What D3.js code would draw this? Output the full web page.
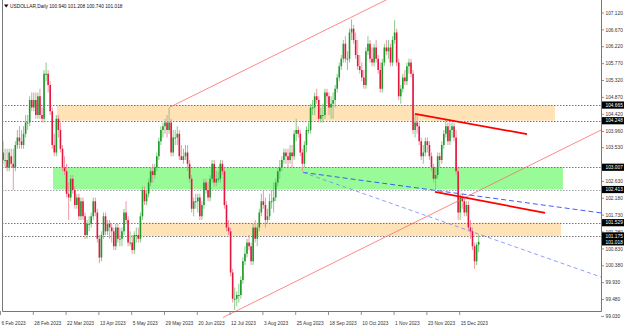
<!DOCTYPE html>
<html>
<head>
<meta charset="utf-8">
<script src="https://cdn.jsdelivr.net/npm/d3@7"></script>
<style>
  body { margin: 0; background: #fff; }
  svg { display: block; }
</style>
</head>
<body>
<div id="canvas"></div>
<script>
// daily bars, 6 Feb 2023 onwards (bar index = trading day)
const dateLabels = ["6 Feb 2023", "28 Feb 2023", "22 Mar 2023", "13 Apr 2023", "5 May 2023", "29 May 2023",
  "20 Jun 2023", "12 Jul 2023", "3 Aug 2023", "25 Aug 2023", "18 Sep 2023", "10 Oct 2023", "1 Nov 2023",
  "23 Nov 2023", "15 Dec 2023"];
const dateIndex = [0, 16, 32, 48, 64, 80, 96, 112, 128, 144, 160, 176, 192, 208, 224];

const priceTicks = [107.12, 106.67, 106.22, 105.77, 105.32, 104.87, 104.42, 103.96, 103.53,
  102.63, 102.18, 101.73, 101.28, 100.83, 100.38, 99.93, 99.48, 99.03];

const open = [
  103.0,103.4,103.2,103.2,103.0,103.3,103.1,103.0,103.6,103.8,
  103.7,103.6,103.9,104.2,104.2,104.8,104.6,104.8,104.4,104.9,
  104.4,104.3,105.5,105.5,105.2,104.5,103.6,103.4,104.3,104.0,
  103.5,103.0,102.9,102.3,102.2,102.7,102.4,102.0,102.2,101.7,
  102.1,101.7,101.2,101.5,101.5,101.7,102.1,101.8,101.1,100.6,
  101.2,101.7,101.3,101.5,101.4,101.3,100.9,101.4,101.1,101.1,
  101.3,101.8,101.6,101.0,101.0,100.8,101.2,101.2,101.1,101.7,
  102.4,102.1,102.3,102.6,102.9,102.8,103.0,103.3,103.7,104.0,
  104.1,104.2,104.0,104.2,103.4,103.8,103.8,103.9,103.3,103.2,
  103.3,103.4,103.1,102.7,101.9,102.1,102.1,102.2,101.7,102.0,
  102.6,102.4,102.2,102.7,103.1,102.6,102.7,102.7,103.1,102.9,
  102.0,101.4,101.3,100.2,99.5,99.5,99.6,99.6,100.0,100.5,
  100.7,101.0,100.9,100.5,101.4,101.1,101.4,101.8,102.1,102.0,
  101.6,101.7,102.1,102.1,102.2,102.6,102.9,103.0,103.2,103.4,
  103.3,103.2,103.4,103.3,103.9,104.0,103.9,103.4,103.1,103.6,
  104.0,104.0,104.6,104.6,104.9,104.8,104.3,104.4,104.4,105.0,
  104.9,104.6,104.7,104.8,105.1,105.4,105.7,105.9,106.3,105.9,
  105.9,106.6,106.7,106.4,106.0,105.7,105.6,105.4,105.2,106.1,
  106.3,105.9,105.8,106.2,105.9,105.6,105.1,105.8,106.2,106.1,
  106.2,105.8,106.4,106.6,105.8,104.9,105.1,105.4,105.3,105.7,
  105.8,105.5,104.0,104.2,104.1,103.7,103.3,103.4,103.7,103.6,
  103.3,103.0,102.7,102.8,103.3,103.2,103.6,103.9,104.1,103.7,
  104.0,104.1,103.8,102.9,101.8,102.2,102.1,101.8,102.0,101.4,
  101.3,100.9,100.5,100.94
];
const high = [
  103.5,103.7,103.5,103.5,103.5,103.5,103.5,103.7,104.0,104.1,
  104.0,104.1,104.4,104.4,104.9,105.0,105.0,105.0,105.0,105.1,
  104.6,105.6,105.8,105.6,105.3,104.6,103.9,104.4,104.4,104.2,
  103.6,103.3,103.1,102.6,102.8,102.8,102.5,102.3,102.3,102.2,
  102.2,101.8,101.6,101.7,101.8,102.2,102.2,101.9,101.2,101.3,
  101.8,101.8,101.6,101.6,101.5,101.4,101.5,101.5,101.4,101.4,
  101.9,102.1,101.7,101.3,101.2,101.3,101.4,101.4,101.8,102.5,
  102.5,102.4,102.7,103.0,103.1,103.1,103.4,103.8,104.1,104.2,
  104.3,104.4,104.6,104.3,104.0,104.0,104.1,104.0,103.6,103.5,
  103.6,103.6,103.2,102.8,102.2,102.3,102.3,102.3,102.1,102.7,
  102.7,102.6,102.8,103.2,103.2,102.9,102.9,103.2,103.2,103.0,
  102.1,101.6,101.4,100.3,99.8,99.7,99.9,100.1,100.6,100.9,
  101.1,101.2,101.0,101.5,101.6,101.5,101.9,102.3,102.4,102.2,
  101.9,102.3,102.4,102.6,102.7,103.0,103.2,103.3,103.5,103.5,
  103.5,103.6,103.6,104.0,104.3,104.1,104.0,103.5,103.7,104.1,
  104.2,104.7,104.8,105.0,105.1,104.9,104.6,104.7,105.1,105.1,
  105.0,104.9,105.0,105.2,105.5,105.8,106.0,106.4,106.5,106.1,
  106.7,106.95,106.8,106.6,106.4,106.0,105.8,105.6,106.2,106.5,
  106.4,106.2,106.3,106.4,106.0,105.8,105.9,106.3,106.4,106.4,
  106.3,106.5,106.93,106.7,105.9,105.2,105.5,105.6,105.8,105.9,
  105.9,105.6,104.43,104.4,104.2,103.8,103.6,103.8,103.8,103.7,
  103.4,103.1,103.0,103.4,103.4,103.7,104.0,104.3,104.2,104.2,
  104.2,104.2,104.0,103.0,102.3,102.3,102.2,102.1,102.1,101.6,
  101.4,101.0,101.0,101.208
];
const low = [
  102.9,103.1,103.0,102.9,102.9,103.0,102.4,102.9,103.5,103.5,
  103.5,103.5,103.8,104.0,104.1,104.5,104.5,104.3,104.3,104.3,
  104.2,104.2,105.3,105.0,104.4,103.5,103.3,103.3,103.8,103.4,
  102.9,102.8,102.2,101.6,102.1,102.3,101.9,101.9,101.6,101.6,
  101.6,101.1,101.1,101.3,101.4,101.6,101.7,101.0,100.45,100.5,
  101.1,101.2,101.2,101.1,101.0,100.8,100.8,101.0,100.9,100.9,
  101.2,101.5,100.9,100.9,100.7,100.7,101.0,101.0,101.0,101.6,
  102.0,102.0,102.2,102.5,102.6,102.7,102.9,103.2,103.6,103.8,
  103.9,103.8,103.9,103.3,103.3,103.6,103.6,103.2,103.2,103.1,
  103.2,102.9,102.6,101.8,101.7,101.9,101.8,101.6,101.6,101.9,
  102.3,102.1,102.1,102.6,102.5,102.5,102.6,102.6,102.8,101.9,
  101.3,101.2,100.1,99.4,99.2,99.3,99.4,99.5,99.9,100.4,
  100.6,100.8,100.4,100.4,101.0,100.9,101.3,101.7,101.9,101.4,
  101.5,101.6,101.9,101.8,102.1,102.5,102.7,102.9,103.1,103.1,
  103.0,103.1,103.0,103.2,103.7,103.8,103.3,102.9,103.0,103.4,
  103.9,103.9,104.4,104.4,104.7,104.2,104.2,104.2,104.3,104.7,
  104.4,104.3,104.3,104.6,105.0,105.3,105.6,105.8,105.8,105.6,
  105.8,106.4,106.3,105.9,105.6,105.5,105.3,105.1,105.1,106.0,
  105.8,105.7,105.7,105.8,105.5,105.0,105.0,105.7,106.0,105.9,
  105.7,105.7,106.3,105.7,104.8,104.7,105.0,105.2,105.2,105.5,
  105.4,103.9,103.8,103.9,103.6,103.2,103.1,103.3,103.4,103.2,
  102.9,102.6,102.4,102.7,103.0,103.1,103.5,103.8,103.6,103.6,
  103.8,103.7,102.8,101.6,101.6,101.9,101.7,101.7,101.3,101.1,
  100.8,100.3,100.4,100.74
];
const close = [
  103.4,103.2,103.2,103.0,103.4,103.1,103.0,103.6,103.8,103.7,
  103.6,103.9,104.2,104.2,104.8,104.6,104.8,104.4,104.9,104.4,
  104.3,105.5,105.5,105.2,104.5,103.6,103.4,104.3,104.0,103.5,
  103.0,102.9,102.3,102.2,102.7,102.4,102.0,102.2,101.7,102.1,
  101.7,101.2,101.5,101.5,101.7,102.1,101.8,101.1,100.6,101.2,
  101.7,101.3,101.5,101.4,101.3,100.9,101.4,101.1,101.1,101.3,
  101.8,101.6,101.0,101.0,100.8,101.2,101.2,101.1,101.7,102.4,
  102.1,102.3,102.6,102.9,102.8,103.0,103.3,103.7,104.0,104.1,
  104.2,104.0,104.2,103.4,103.8,103.8,103.9,103.3,103.2,103.3,
  103.4,103.1,102.7,101.9,102.1,102.1,102.2,101.7,102.0,102.6,
  102.4,102.2,102.7,103.1,102.6,102.7,102.7,103.1,102.9,102.0,
  101.4,101.3,100.2,99.5,99.5,99.6,99.6,100.0,100.5,100.7,
  101.0,100.9,100.5,101.4,101.1,101.4,101.8,102.1,102.0,101.6,
  101.7,102.1,102.1,102.2,102.6,102.9,103.0,103.2,103.4,103.3,
  103.2,103.4,103.3,103.9,104.0,103.9,103.4,103.1,103.6,104.0,
  104.0,104.6,104.6,104.9,104.8,104.3,104.4,104.4,105.0,104.9,
  104.6,104.7,104.8,105.1,105.4,105.7,105.9,106.3,105.9,105.9,
  106.6,106.7,106.4,106.0,105.7,105.6,105.4,105.2,106.1,106.3,
  105.9,105.8,106.2,105.9,105.6,105.1,105.8,106.2,106.1,106.2,
  105.8,106.4,106.6,105.8,104.9,105.1,105.4,105.3,105.7,105.8,
  105.5,104.0,104.2,104.1,103.7,103.3,103.4,103.7,103.6,103.3,
  103.0,102.7,102.8,103.3,103.2,103.6,103.9,104.1,103.7,104.0,
  104.1,103.8,102.9,101.8,102.2,102.1,101.8,102.0,101.4,101.3,
  100.9,100.5,100.94,101.018
];

// horizontal levels (dotted lines + axis boxes)
const levels = [104.665, 104.248, 103.007, 102.413, 101.529, 101.175];
const lastPrice = 101.018;

// rectangles: price top/bottom, bar start/end
const zoneTop = [104.665, 103.007, 101.529];
const zoneBottom = [104.248, 102.413, 101.175];
const zoneStart = [27.3, 25.4, 68.3];
const zoneEnd = [270.2, 274.1, 273.2];

// trend lines: [bar, price] pairs
const channelUpper = [[82.4, 104.61], [292.7, 110.31]];
const channelLower = [[108.3, 99.0], [292.7, 104.0]];
const redLine1 = [[201.95, 104.43], [256.6, 103.89]];
const redLine2 = [[211.7, 102.35], [265.4, 101.79]];
const blueLine1 = [[147.3, 102.87], [292.7, 101.79]];
const blueLine2 = [[147.3, 102.87], [292.7, 100.08]];

const width = 625, height = 330;
const plot = { left: 2, right: 601, top: 0, bottom: 311 };
const font = "Liberation Sans, Arial, sans-serif";

const svg = d3.select("#canvas").append("svg")
  .attr("width", width).attr("height", height)
  .attr("viewBox", [0, 0, width, height]);

const x = d3.scaleLinear().domain([0, 233]).range([1, 1 + 233 * 2.05]);
const y = d3.scaleLinear().domain([99.03, 107.12]).range([316.4, 13]);

svg.append("defs").append("clipPath").attr("id", "plotclip")
  .append("rect").attr("x", plot.left).attr("y", plot.top)
  .attr("width", plot.right - plot.left).attr("height", plot.bottom - plot.top);
svg.append("defs").append("clipPath").attr("id", "lineclip")
  .append("rect").attr("x", plot.left).attr("y", 0)
  .attr("width", plot.right - plot.left).attr("height", height);

const g = svg.append("g").attr("clip-path", "url(#plotclip)");

// zones
const zoneColors = ["#ffe3b6", "#98fb98", "#ffe3b6"];
g.selectAll("rect.zone").data(zoneTop).enter().append("rect")
  .attr("class", "zone")
  .attr("x", (d, i) => x(zoneStart[i]))
  .attr("width", (d, i) => x(zoneEnd[i]) - x(zoneStart[i]))
  .attr("y", d => y(d))
  .attr("height", (d, i) => y(zoneBottom[i]) - y(d))
  .attr("fill", (d, i) => zoneColors[i]);

// dotted level lines
g.selectAll("line.level").data(levels).enter().append("line")
  .attr("x1", plot.left).attr("x2", plot.right)
  .attr("y1", d => Math.round(y(d)) + 0.5).attr("y2", d => Math.round(y(d)) + 0.5)
  .attr("stroke", (d, i) => i === 3 ? "#8a8f99" : "#555")
  .attr("stroke-width", 0.8)
  .attr("stroke-dasharray", "1.5,1.5");

// candles
const bars = d3.range(close.length);
const up = i => close[i] >= open[i];
const bull = "#1e9a28", bear = "#e3173e";
g.selectAll("line.wick").data(bars).enter().append("line")
  .attr("x1", i => x(i)).attr("x2", i => x(i))
  .attr("y1", i => y(high[i])).attr("y2", i => y(low[i]))
  .attr("stroke", i => up(i) ? "#7cc47c" : "#f08a9e")
  .attr("stroke-width", 0.9);
g.selectAll("rect.body").data(bars).enter().append("rect")
  .attr("x", i => x(i) - 0.8)
  .attr("width", 1.6)
  .attr("y", i => y(Math.max(open[i], close[i])))
  .attr("height", i => Math.max(1, Math.abs(y(open[i]) - y(close[i]))))
  .attr("fill", i => up(i) ? bull : bear);

// trend lines
const lg = svg.append("g").attr("clip-path", "url(#lineclip)");
const line = d3.line().x(d => x(d[0])).y(d => y(d[1]));
const trend = [
  { pts: channelUpper, color: "#ff6b6b", w: 0.8, dash: null },
  { pts: channelLower, color: "#ff6b6b", w: 0.8, dash: null },
  { pts: blueLine1, color: "#2f4cff", w: 0.9, dash: "5,3" },
  { pts: blueLine2, color: "#7385ff", w: 0.8, dash: "4,3" },
  { pts: redLine1, color: "#ff0000", w: 1.8, dash: null },
  { pts: redLine2, color: "#ff0000", w: 1.8, dash: null }
];
lg.selectAll("path.trend").data(trend).enter().append("path")
  .attr("d", d => line(d.pts))
  .attr("fill", "none")
  .attr("stroke", d => d.color)
  .attr("stroke-width", d => d.w)
  .attr("stroke-dasharray", d => d.dash);

// frame
svg.append("path")
  .attr("d", `M${plot.left + 0.5},0V${plot.bottom + 0.5}H${plot.right + 0.5}V0`)
  .attr("fill", "none").attr("stroke", "#777").attr("stroke-width", 1);

// price axis
const ax = svg.append("g");
ax.selectAll("line.ptick").data(priceTicks).enter().append("line")
  .attr("x1", plot.right).attr("x2", plot.right + 3)
  .attr("y1", d => y(d)).attr("y2", d => y(d))
  .attr("stroke", "#777").attr("stroke-width", 0.8);
ax.selectAll("text.ptick").data(priceTicks).enter().append("text")
  .attr("x", plot.right + 4.5).attr("y", d => y(d) + 1.7)
  .attr("font-family", font).attr("font-size", 4.8).attr("fill", "#333")
  .text(d => d.toFixed(3));

const boxes = levels.concat([lastPrice]);
const bx = ax.selectAll("g.box").data(boxes).enter().append("g")
  .attr("transform", d => `translate(${plot.right + 1},${y(d)})`);
bx.append("rect").attr("x", 0).attr("y", -3.6).attr("width", 22).attr("height", 7.2).attr("fill", "#000");
bx.append("text").attr("x", 3.5).attr("y", 1.7)
  .attr("font-family", font).attr("font-size", 4.8).attr("fill", "#fff")
  .text(d => d.toFixed(3));

// time axis
const tx = svg.append("g");
tx.selectAll("line.dtick").data(dateIndex).enter().append("line")
  .attr("x1", d => x(d) - 0.5).attr("x2", d => x(d) - 0.5)
  .attr("y1", plot.bottom).attr("y2", plot.bottom + 4)
  .attr("stroke", "#777").attr("stroke-width", 0.8);
tx.selectAll("text.dtick").data(dateIndex).enter().append("text")
  .attr("x", d => x(d) + 0.5).attr("y", plot.bottom + 14)
  .attr("font-family", font).attr("font-size", 4.8).attr("fill", "#333")
  .text((d, i) => dateLabels[i]);

// title
svg.append("path").attr("d", "M4,4.5H8.4L6.2,7.6Z").attr("fill", "#000");
svg.append("text").attr("x", 10).attr("y", 7.8)
  .attr("font-family", font).attr("font-size", 4.8).attr("fill", "#111")
  .text("USDOLLAR,Daily  100.940 101.208 100.740 101.018");
</script>
</body>
</html>
